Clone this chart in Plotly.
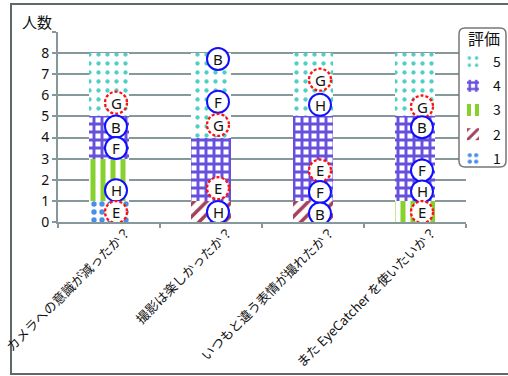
import plotly.graph_objects as go

# ---------------- data ----------------
categories = ["カメラへの意識が減ったか？", "撮影は楽しかったか？", "いつもと違う表情が撮れたか？", "また EyeCatcher を使いたいか？"]
ratings = ["1", "2", "3", "4", "5"]
count_1 = [1, 0, 0, 0]
count_2 = [0, 1, 1, 0]
count_3 = [2, 0, 0, 1]
count_4 = [2, 3, 4, 4]
count_5 = [3, 4, 3, 3]
y_ticks = [0, 1, 2, 3, 4, 5, 6, 7, 8, 9]
y_ticktext = ["0", "1", "2", "3", "4", "5", "6", "7", "8", ""]

# participant markers: (category index, letter, y position)
marker_cat = [0, 0, 0, 0, 0, 1, 1, 1, 1, 1, 2, 2, 2, 2, 2, 3, 3, 3, 3, 3]
marker_letter = ["G", "B", "F", "H", "E", "B", "F", "G", "E", "H",
                 "G", "H", "E", "F", "B", "G", "B", "F", "H", "E"]
marker_y = [5.65, 4.52, 3.5, 1.5, 0.47, 7.72, 5.7, 4.6, 1.6, 0.47,
            6.74, 5.55, 2.44, 1.42, 0.4, 5.47, 4.49, 2.44, 1.45, 0.47]
dashed_letters = ["E", "G"]

# ---------------- styles ----------------
counts = [count_1, count_2, count_3, count_4, count_5]
patterns = [
    dict(shape=".", fgcolor="#4a8fe6", bgcolor="white", size=8, solidity=0.35, fillmode="replace"),
    dict(shape="/", fgcolor="#a3405a", bgcolor="white", size=9, solidity=0.4, fillmode="replace"),
    dict(shape="|", fgcolor="#86d12e", bgcolor="white", size=10, solidity=0.5, fillmode="replace"),
    dict(shape="+", fgcolor="#6650dc", bgcolor="white", size=8, solidity=0.6, fillmode="replace"),
    dict(shape=".", fgcolor="#4fcfc6", bgcolor="white", size=9, solidity=0.18, fillmode="replace"),
]
GRID = "#87989a"
FONT = "Noto Sans CJK JP"

# pixel geometry of the plot area
W, H = 508, 376
L, R, T, B = 58, 466, 32, 222


def px(xp):
    return (xp - L) / (R - L)


def py(yp):
    return (B - yp) / (B - T)


fig = go.Figure()
for i, (name, vals, pat) in enumerate(zip(ratings, counts, patterns)):
    fig.add_trace(go.Bar(
        x=categories, y=vals, name=name, width=0.39, legendgroup=name,
        legendrank=1000 - i,
        marker=dict(color="white", pattern=pat, line=dict(width=0)),
    ))

shapes = []
annotations = []
for ci, letter, yv in zip(marker_cat, marker_letter, marker_y):
    dashed = letter in dashed_letters
    shapes.append(dict(
        type="circle", xref="x", yref="y", xsizemode="pixel", ysizemode="pixel",
        xanchor=categories[ci], yanchor=yv, x0=-4, x1=18, y0=-11, y1=11,
        fillcolor="white",
        line=dict(color="#ff1010" if dashed else "#1010ff", width=2.3 if dashed else 2,
                  dash="3px,2px" if dashed else "solid"),
    ))
    annotations.append(dict(
        x=categories[ci], y=yv, xref="x", yref="y", xshift=7, text=letter,
        showarrow=False, font=dict(size=15, color="#111", family="Noto Sans"),
    ))

# outer frame
shapes.append(dict(type="rect", xref="paper", yref="paper", x0=px(11), x1=px(530), y0=py(374), y1=py(4),
                   line=dict(color="#5f6969", width=2), fillcolor="rgba(0,0,0,0)", layer="below"))
# legend rounded box
lx0, lx1, ly0, ly1, rr = 459, 506, 28, 167, 6
path = (f"M{px(lx0+rr)},{py(ly0)} L{px(lx1-rr)},{py(ly0)} Q{px(lx1)},{py(ly0)} {px(lx1)},{py(ly0+rr)} "
        f"L{px(lx1)},{py(ly1-rr)} Q{px(lx1)},{py(ly1)} {px(lx1-rr)},{py(ly1)} "
        f"L{px(lx0+rr)},{py(ly1)} Q{px(lx0)},{py(ly1)} {px(lx0)},{py(ly1-rr)} "
        f"L{px(lx0)},{py(ly0+rr)} Q{px(lx0)},{py(ly0)} {px(lx0+rr)},{py(ly0)} Z")
shapes.append(dict(type="path", xref="paper", yref="paper", path=path,
                   line=dict(color="#777", width=1.5), fillcolor="white", layer="above"))

annotations.append(dict(x=px(36.5), y=py(21), xref="paper", yref="paper", text="人数",
                        showarrow=False, font=dict(size=15, color="#111", family=FONT),
                        xanchor="center", yanchor="middle"))
annotations.append(dict(x=px(484), y=py(38), xref="paper", yref="paper", text="評価",
                        showarrow=False, font=dict(size=16, color="#111", family=FONT),
                        xanchor="center", yanchor="middle"))

fig.update_layout(
    width=W, height=H, barmode="stack",
    margin=dict(l=L, r=W - R, t=T, b=H - B, autoexpand=False),
    paper_bgcolor="white", plot_bgcolor="white",
    font=dict(family=FONT, color="#111"),
    shapes=shapes, annotations=annotations,
    showlegend=True,
    legend=dict(
        traceorder="grouped", tracegroupgap=3, x=px(453), y=py(46), xanchor="left", yanchor="top",
        bgcolor="rgba(0,0,0,0)", borderwidth=0,
        font=dict(size=14, family=FONT, color="#111"),
    ),
    xaxis=dict(
        range=[-0.5, 3.5], showgrid=False, showline=True, linecolor=GRID, linewidth=2,
        ticks="outside", tickson="boundaries", ticklen=4, tickcolor=GRID, tickwidth=2,
        tickangle=-45, tickfont=dict(size=13, family=FONT, color="#111"), ticklabelshift=18,
        ticklabelstandoff=-5, automargin=False,
    ),
    yaxis=dict(
        range=[0, 9], tickvals=y_ticks, ticktext=y_ticktext, showgrid=True, gridcolor=GRID, gridwidth=2,
        showline=True, linecolor=GRID, linewidth=2, zeroline=False,
        ticks="outside", ticklen=4, tickcolor=GRID, tickwidth=2,
        tickfont=dict(size=14, family="Noto Sans", color="#111"), automargin=False,
    ),
)

fig.write_html("out.html")
